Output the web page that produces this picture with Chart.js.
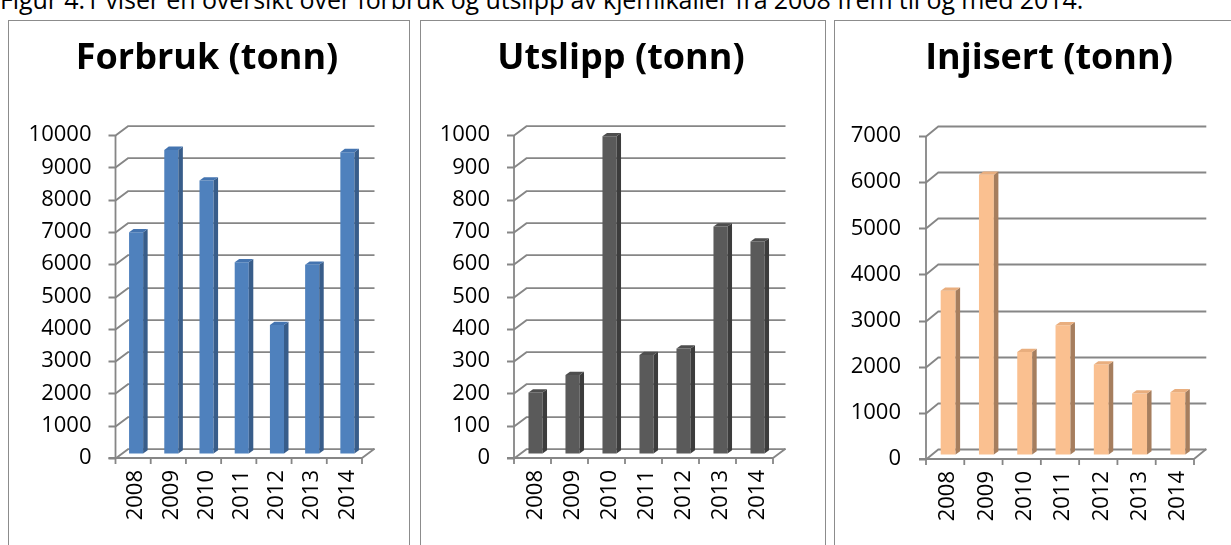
<!DOCTYPE html>
<html><head><meta charset="utf-8">
<script src="https://cdn.jsdelivr.net/npm/chart.js@4.4.1/dist/chart.umd.min.js"></script>
<style>
html,body{margin:0;padding:0;background:#fff;width:1231px;height:545px;overflow:hidden;position:relative;font-family:"Open Sans",sans-serif}
.cap{position:absolute;left:0;top:-13px;font-size:25px;line-height:25px;white-space:nowrap;color:#000;letter-spacing:-0.1px}
.panel{position:absolute;top:20px;height:600px;border:1.5px solid #8c8c8c;box-sizing:border-box}
.title{position:absolute;top:38px;width:400px;text-align:center;font-weight:700;font-size:36px;line-height:36px;color:#000;white-space:nowrap}
canvas{position:absolute;top:0}
</style></head>
<body>
<div class="cap">Figur 4.1 viser en oversikt over forbruk og utslipp av kjemikalier fra 2008 frem til og med 2014.</div>
<div class="panel" style="left:8px;width:402px"></div>
<div class="panel" style="left:420px;width:406px"></div>
<div class="panel" style="left:834px;width:460px"></div>
<canvas id="c1" width="420" height="545" style="left:0px"></canvas>
<canvas id="c2" width="415" height="545" style="left:415px"></canvas>
<canvas id="c3" width="401" height="545" style="left:830px"></canvas>
<div class="title" style="left:7px">Forbruk (tonn)</div>
<div class="title" style="left:421px">Utslipp (tonn)</div>
<div class="title" style="left:849px">Injisert (tonn)</div>
<script>
// ---- data ----
const years = ['2008','2009','2010','2011','2012','2013','2014'];
const forbruk = [6850, 9400, 8450, 5920, 3980, 5840, 9330];
const utslipp = [189, 243, 982, 305, 325, 703, 656];
const injisert = [3550, 6060, 2220, 2800, 1950, 1320, 1350];
const forbrukTicks = [0, 10000, 1000];   // min, max, step
const utslippTicks = [0, 1000, 100];
const injisertTicks = [0, 7000, 1000];

Chart.defaults.font.family = '"Open Sans", sans-serif';
Chart.defaults.color = '#000';

const GRID = '#868686';

const wall3d = {
  id: 'wall3d',
  beforeDatasetsDraw(chart, args, o) {
    const {ctx, chartArea: {left, right, bottom}, scales: {y}} = chart;
    ctx.save();
    ctx.strokeStyle = GRID; ctx.lineWidth = 1.8; ctx.lineCap = 'butt';
    y.ticks.forEach(t => {
      const py = Math.round(y.getPixelForValue(t.value)) + 0.5;
      ctx.beginPath();
      ctx.moveTo(left - 7, py); ctx.lineTo(left, py);
      ctx.lineTo(left + o.dx, py - o.dy); ctx.lineTo(right + o.dx, py - o.dy);
      ctx.stroke();
    });
    const yTop = y.getPixelForValue(y.max);
    ctx.beginPath();
    ctx.moveTo(left, yTop); ctx.lineTo(left, bottom + 6);
    ctx.moveTo(left - 7, bottom); ctx.lineTo(right, bottom); ctx.lineTo(right + o.dx, bottom - o.dy);
    const n = chart.data.labels.length;
    for (let i = 1; i <= n; i++) {
      const x = left + i * (right - left) / n;
      ctx.moveTo(x, bottom); ctx.lineTo(x, bottom + 6);
    }
    ctx.stroke();
    ctx.restore();
  },
  beforeDatasetDraw(chart, args, o) {
    chart.ctx.save();
    chart.ctx.translate(o.bx, -o.by);
  },
  afterDatasetDraw(chart, args, o) {
    const ctx = chart.ctx;
    const meta = chart.getDatasetMeta(args.index);
    meta.data.forEach(bar => {
      const {x, y, base, width} = bar.getProps(['x', 'y', 'base', 'width'], true);
      const l = x - width / 2, r = x + width / 2;
      ctx.fillStyle = o.side;
      ctx.beginPath();
      ctx.moveTo(r, y); ctx.lineTo(r + o.sx, y - o.sy); ctx.lineTo(r + o.sx, base - o.sy); ctx.lineTo(r, base);
      ctx.closePath(); ctx.fill();
      ctx.fillStyle = o.top;
      ctx.beginPath();
      ctx.moveTo(l, y); ctx.lineTo(l + o.sx, y - o.sy); ctx.lineTo(r + o.sx, y - o.sy); ctx.lineTo(r, y);
      ctx.closePath(); ctx.fill();
    });
    ctx.restore();
  }
};

function make(id, values, ticks, L) {
  new Chart(document.getElementById(id), {
    type: 'bar',
    data: {
      labels: years,
      datasets: [{
        data: values,
        backgroundColor: L.front,
        borderWidth: 0,
        barPercentage: L.barPct,
        categoryPercentage: 1,
        clip: false
      }]
    },
    options: {
      responsive: false,
      animation: false,
      events: [],
      layout: {padding: {left: L.padL, right: L.padR, top: L.padT, bottom: 0}},
      plugins: {
        legend: {display: false},
        tooltip: {enabled: false},
        title: {display: false},
        wall3d: {dx: L.dx, dy: L.dy, bx: 3, by: 4.5, sx: 4.5, sy: 3.3, side: L.side, top: L.top}
      },
      scales: {
        x: {
          grid: {display: false, drawTicks: false},
          border: {display: false},
          ticks: {minRotation: 90, maxRotation: 90, padding: 12, labelOffset: 3, font: {size: 22}},
          afterFit: s => { s.height = L.xH; }
        },
        y: {
          min: ticks[0], max: ticks[1],
          grid: {display: false, drawTicks: false},
          border: {display: false},
          ticks: {stepSize: ticks[2], padding: L.tickPad, font: {size: 22}, callback: v => String(v)},
          afterFit: s => { s.width = L.yW; }
        }
      }
    },
    plugins: [wall3d]
  });
}

make('c1', forbruk, forbrukTicks, {
  padL: 20.5, yW: 95, padR: 420 - 362, padT: 135, xH: 545 - 458, tickPad: 24,
  barPct: 0.4, dx: 12.5, dy: 9.3,
  front: '#4F81BD', side: '#385D8A', top: '#4474B0'
});
make('c2', utslipp, utslippTicks, {
  padL: 4, yW: 95, padR: 415 - (773 - 415), padT: 135, xH: 545 - 458, tickPad: 24,
  barPct: 0.38, dx: 12.5, dy: 9.3,
  front: '#5A5A5A', side: '#3C3C3C', top: '#4E4E4E'
});
make('c3', injisert, injisertTicks, {
  padL: 1, yW: 95, padR: 401 - (1194 - 830), padT: 136, xH: 545 - 459, tickPad: 25,
  barPct: 0.39, dx: 12.3, dy: 10,
  front: '#FAC090', side: '#A67E5E', top: '#E9AE7E'
});
</script>
</body></html>
